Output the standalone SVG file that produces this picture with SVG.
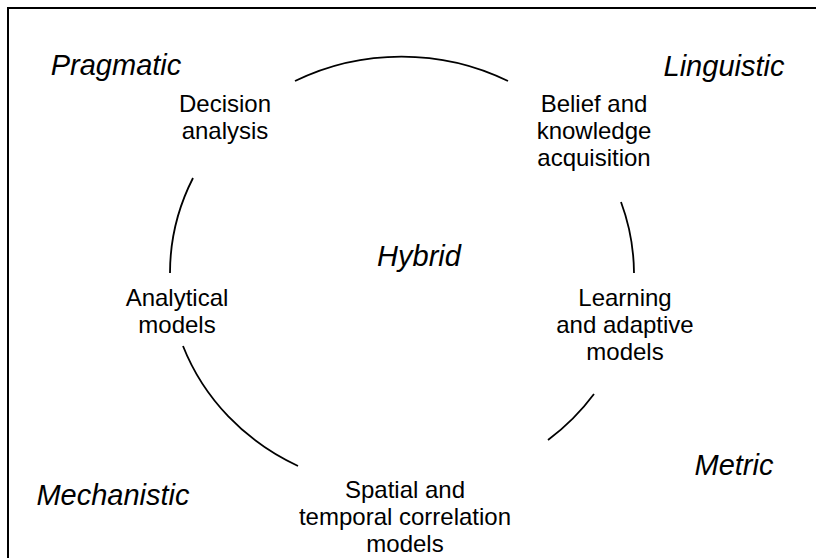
<svg xmlns="http://www.w3.org/2000/svg" width="816" height="558" viewBox="0 0 816 558">
<style>
.frame{stroke:#000;stroke-width:2;fill:none}
.arc{stroke:#000;stroke-width:1.8;fill:none}
.node{font-family:"Liberation Sans",Arial,sans-serif;font-size:24px;fill:#000;text-anchor:middle}
.cat{font-family:"Liberation Sans",Arial,sans-serif;font-size:29px;font-style:italic;fill:#000;text-anchor:middle}
</style>
<rect width="816" height="558" fill="#fff"/>
<g id="frame">
<path class="frame" d="M8,558 L8,8 L816,8"/>
</g>
<g id="connectors">
<path class="arc" d="M295,81 A232,219 0 0 1 508,81"/>
<path class="arc" d="M621,202 A232,219 0 0 1 634,273"/>
<path class="arc" d="M594,394 A232,219 0 0 1 548,440"/>
<path class="arc" d="M298,466 A232,219 0 0 1 183,346"/>
<path class="arc" d="M170,273 A232,219 0 0 1 193,178"/>
</g>
<g id="pragmatic"><text class="cat" x="116" y="75">Pragmatic</text></g>
<g id="linguistic"><text class="cat" x="724" y="76">Linguistic</text></g>
<g id="hybrid"><text class="cat" x="419" y="266">Hybrid</text></g>
<g id="mechanistic"><text class="cat" x="113" y="505">Mechanistic</text></g>
<g id="metric"><text class="cat" x="734" y="475">Metric</text></g>
<g id="decision"><text class="node" x="225" y="112">Decision</text><text class="node" x="225" y="139">analysis</text></g>
<g id="belief"><text class="node" x="594" y="112">Belief and</text><text class="node" x="594" y="139">knowledge</text><text class="node" x="594" y="166">acquisition</text></g>
<g id="analytical"><text class="node" x="177" y="306">Analytical</text><text class="node" x="177" y="333">models</text></g>
<g id="learning"><text class="node" x="625" y="306">Learning</text><text class="node" x="625" y="333">and adaptive</text><text class="node" x="625" y="360">models</text></g>
<g id="spatial"><text class="node" x="405" y="498">Spatial and</text><text class="node" x="405" y="525">temporal correlation</text><text class="node" x="405" y="552">models</text></g>
</svg>
